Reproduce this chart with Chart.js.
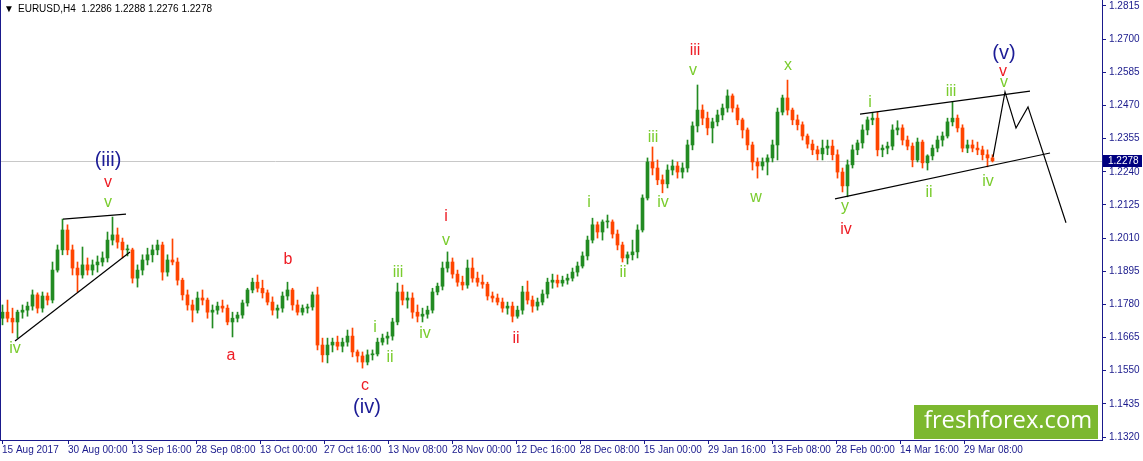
<!DOCTYPE html>
<html>
<head>
<meta charset="utf-8">
<script src="https://cdn.jsdelivr.net/npm/chart.js@4.4.1/dist/chart.umd.min.js"></script>
<style>
  html, body { margin: 0; padding: 0; background: #fff; }
  #wrap { width: 1143px; height: 461px; }
</style>
</head>
<body>
<div id="wrap"><canvas id="eurusdChart" width="1143" height="461"></canvas></div>
<script>
// EURUSD H4 (one candle here = 5 H4 bars)
const openP = [1.1732,1.1753,1.1732,1.1719,1.1753,1.1760,1.1774,1.1813,1.1767,1.1809,
  1.1795,1.1899,1.1969,1.2038,1.1969,1.1906,1.1882,1.1917,1.1899,1.1917,
  1.1927,1.1941,1.2003,1.2021,1.1996,1.1969,1.1969,1.1871,1.1899,1.1934,
  1.1952,1.1969,1.1986,1.1892,1.1934,1.1927,1.1864,1.1813,1.1778,1.1760,
  1.1802,1.1795,1.1753,1.1760,1.1774,1.1767,1.1719,1.1732,1.1743,1.1785,
  1.1830,1.1857,1.1836,1.1820,1.1788,1.1760,1.1767,1.1809,1.1830,1.1778,
  1.1753,1.1767,1.1771,1.1813,1.1639,1.1605,1.1639,1.1649,1.1635,1.1649,
  1.1670,1.1615,1.1601,1.1580,1.1605,1.1608,1.1649,1.1663,1.1670,1.1719,
  1.1823,1.1795,1.1802,1.1753,1.1739,1.1746,1.1760,1.1823,1.1843,1.1906,
  1.1927,1.1885,1.1857,1.1847,1.1906,1.1871,1.1857,1.1850,1.1809,1.1802,
  1.1788,1.1767,1.1774,1.1739,1.1760,1.1823,1.1795,1.1774,1.1788,1.1816,
  1.1857,1.1864,1.1854,1.1864,1.1871,1.1892,1.1913,1.1948,1.2003,1.2056,
  1.2031,1.2066,1.2066,1.2024,1.1986,1.1941,1.1952,1.1962,1.2038,1.2149,
  1.2274,1.2253,1.2212,1.2198,1.2246,1.2260,1.2239,1.2253,1.2333,1.2399,
  1.2454,1.2426,1.2392,1.2413,1.2437,1.2461,1.2503,1.2461,1.2420,1.2385,
  1.2333,1.2274,1.2260,1.2274,1.2288,1.2333,1.2447,1.2496,1.2454,1.2420,
  1.2403,1.2364,1.2336,1.2316,1.2302,1.2322,1.2329,1.2299,1.2239,1.2191,
  1.2264,1.2316,1.2340,1.2385,1.2420,1.2426,1.2316,1.2322,1.2329,1.2385,
  1.2392,1.2350,1.2329,1.2281,1.2343,1.2271,1.2295,1.2322,1.2350,1.2364,
  1.2413,1.2426,1.2392,1.2322,1.2333,1.2322,1.2316,1.2299,1.2288];
const highP = [1.1778,1.1795,1.1767,1.1760,1.1778,1.1788,1.1830,1.1820,1.1823,1.1820,
  1.1927,1.1986,1.2076,1.2056,1.1986,1.1927,1.1979,1.1941,1.1934,1.1948,
  1.1962,1.2031,1.2083,1.2045,1.2010,1.1986,1.1975,1.1917,1.1952,1.1975,
  1.1986,1.2003,1.1996,1.1952,1.2007,1.1941,1.1871,1.1830,1.1795,1.1823,
  1.1830,1.1802,1.1778,1.1788,1.1795,1.1778,1.1753,1.1753,1.1795,1.1836,
  1.1871,1.1882,1.1864,1.1830,1.1806,1.1778,1.1823,1.1857,1.1836,1.1795,
  1.1778,1.1781,1.1823,1.1840,1.1663,1.1663,1.1663,1.1670,1.1663,1.1691,
  1.1698,1.1622,1.1615,1.1622,1.1622,1.1663,1.1677,1.1684,1.1732,1.1854,
  1.1847,1.1823,1.1820,1.1778,1.1767,1.1774,1.1836,1.1854,1.1927,1.1962,
  1.1941,1.1899,1.1878,1.1934,1.1941,1.1892,1.1882,1.1857,1.1823,1.1816,
  1.1802,1.1788,1.1788,1.1774,1.1843,1.1861,1.1809,1.1802,1.1830,1.1871,
  1.1885,1.1882,1.1878,1.1885,1.1906,1.1927,1.1962,1.2017,1.2079,1.2066,
  1.2073,1.2090,1.2073,1.2038,1.1996,1.1962,1.2003,1.2056,1.2160,1.2288,
  1.2326,1.2281,1.2229,1.2264,1.2281,1.2274,1.2271,1.2350,1.2413,1.2541,
  1.2472,1.2447,1.2426,1.2454,1.2475,1.2524,1.2510,1.2472,1.2426,1.2392,
  1.2343,1.2288,1.2288,1.2299,1.2350,1.2461,1.2506,1.2558,1.2461,1.2437,
  1.2413,1.2371,1.2350,1.2329,1.2350,1.2350,1.2350,1.2316,1.2253,1.2281,
  1.2333,1.2350,1.2403,1.2430,1.2444,1.2447,1.2333,1.2343,1.2403,1.2417,
  1.2403,1.2364,1.2340,1.2357,1.2350,1.2299,1.2333,1.2364,1.2378,1.2426,
  1.2482,1.2437,1.2403,1.2350,1.2350,1.2343,1.2329,1.2316,1.2299];
const lowP = [1.1709,1.1719,1.1681,1.1663,1.1732,1.1739,1.1760,1.1750,1.1753,1.1778,
  1.1785,1.1892,1.1952,1.1952,1.1882,1.1823,1.1871,1.1882,1.1882,1.1892,
  1.1913,1.1927,1.1986,1.1975,1.1941,1.1948,1.1854,1.1840,1.1882,1.1917,
  1.1927,1.1952,1.1864,1.1878,1.1917,1.1847,1.1795,1.1760,1.1719,1.1750,
  1.1778,1.1732,1.1698,1.1746,1.1753,1.1709,1.1667,1.1719,1.1732,1.1774,
  1.1820,1.1823,1.1802,1.1778,1.1743,1.1732,1.1753,1.1795,1.1760,1.1743,
  1.1743,1.1750,1.1760,1.1622,1.1580,1.1577,1.1615,1.1622,1.1615,1.1635,
  1.1598,1.1580,1.1559,1.1570,1.1587,1.1601,1.1639,1.1642,1.1656,1.1709,
  1.1778,1.1767,1.1732,1.1719,1.1719,1.1732,1.1750,1.1813,1.1830,1.1892,
  1.1871,1.1843,1.1830,1.1836,1.1857,1.1843,1.1836,1.1795,1.1788,1.1778,
  1.1753,1.1746,1.1719,1.1732,1.1746,1.1781,1.1753,1.1760,1.1778,1.1802,
  1.1836,1.1840,1.1843,1.1850,1.1861,1.1878,1.1906,1.1934,1.1993,1.2010,
  1.2003,1.2045,1.2010,1.1969,1.1927,1.1920,1.1934,1.1941,1.2031,1.2142,
  1.2229,1.2195,1.2167,1.2184,1.2229,1.2218,1.2218,1.2239,1.2316,1.2378,
  1.2403,1.2368,1.2340,1.2399,1.2420,1.2447,1.2447,1.2403,1.2357,1.2316,
  1.2246,1.2218,1.2246,1.2229,1.2274,1.2281,1.2437,1.2437,1.2403,1.2385,
  1.2350,1.2322,1.2299,1.2281,1.2281,1.2299,1.2281,1.2218,1.2170,1.2153,
  1.2253,1.2299,1.2322,1.2368,1.2403,1.2295,1.2292,1.2302,1.2316,1.2368,
  1.2333,1.2316,1.2257,1.2274,1.2253,1.2246,1.2281,1.2309,1.2329,1.2357,
  1.2399,1.2378,1.2309,1.2306,1.2309,1.2299,1.2281,1.2257,1.2274];
const closeP = [1.1753,1.1732,1.1719,1.1753,1.1760,1.1774,1.1813,1.1767,1.1809,1.1795,
  1.1899,1.1969,1.2038,1.1969,1.1906,1.1882,1.1917,1.1899,1.1917,1.1927,
  1.1941,1.2003,1.2021,1.1996,1.1969,1.1969,1.1871,1.1899,1.1934,1.1952,
  1.1969,1.1986,1.1892,1.1934,1.1927,1.1864,1.1813,1.1778,1.1760,1.1802,
  1.1795,1.1753,1.1760,1.1774,1.1767,1.1719,1.1732,1.1743,1.1785,1.1830,
  1.1857,1.1836,1.1820,1.1788,1.1760,1.1767,1.1809,1.1830,1.1778,1.1753,
  1.1767,1.1771,1.1813,1.1639,1.1605,1.1639,1.1649,1.1635,1.1649,1.1670,
  1.1615,1.1601,1.1580,1.1605,1.1608,1.1649,1.1663,1.1670,1.1719,1.1823,
  1.1795,1.1802,1.1753,1.1739,1.1746,1.1760,1.1823,1.1843,1.1906,1.1927,
  1.1885,1.1857,1.1847,1.1906,1.1871,1.1857,1.1850,1.1809,1.1802,1.1788,
  1.1767,1.1774,1.1739,1.1760,1.1823,1.1795,1.1774,1.1788,1.1816,1.1857,
  1.1864,1.1854,1.1864,1.1871,1.1892,1.1913,1.1948,1.2003,1.2056,1.2031,
  1.2066,1.2066,1.2024,1.1986,1.1941,1.1952,1.1962,1.2038,1.2149,1.2274,
  1.2253,1.2212,1.2198,1.2246,1.2260,1.2239,1.2253,1.2333,1.2399,1.2454,
  1.2426,1.2392,1.2413,1.2437,1.2461,1.2503,1.2461,1.2420,1.2385,1.2333,
  1.2274,1.2260,1.2274,1.2288,1.2333,1.2447,1.2496,1.2454,1.2420,1.2403,
  1.2364,1.2336,1.2316,1.2302,1.2322,1.2329,1.2299,1.2239,1.2191,1.2264,
  1.2316,1.2340,1.2385,1.2420,1.2426,1.2316,1.2322,1.2329,1.2385,1.2392,
  1.2350,1.2329,1.2281,1.2343,1.2271,1.2295,1.2322,1.2350,1.2364,1.2413,
  1.2426,1.2392,1.2322,1.2333,1.2322,1.2316,1.2299,1.2288,1.2278];

// price scale ticks (right axis)
const priceTicks = [1.2815,1.2700,1.2585,1.2470,1.2355,1.2240,1.2125,1.2010,
  1.1895,1.1780,1.1665,1.1550,1.1435,1.1320];
// time axis: position in H4 bars from 15 Aug 2017 00:00, and labels
const timeTickBars = [2,68,132,196,260,324,388,452,516,580,644,708,772,836,900,964];
const timeTickLabels = ["15 Aug 2017","30 Aug 00:00","13 Sep 16:00","28 Sep 08:00",
  "13 Oct 00:00","27 Oct 16:00","13 Nov 08:00","28 Nov 00:00","12 Dec 16:00",
  "28 Dec 08:00","15 Jan 00:00","29 Jan 16:00","13 Feb 08:00","28 Feb 00:00",
  "14 Mar 16:00","29 Mar 08:00"];
const lastPrice = 1.2278;

// trend lines and the forecast path, as [bar, price] pairs
const trendLines = [
  [[63,1.2076],[126,1.2093]],
  [[15,1.1653],[130,1.1962]],
  [[860,1.2440],[1030,1.2520]],
  [[835,1.2146],[1050,1.2305]],
  [[993,1.2291],[1005,1.2517],[1016,1.2392],[1028,1.2465],[1066,1.2063]],
];

// wave counts: text, bar, price, kind
const waveLabels = [
  ["(iii)",108,1.2278,"major"],["v",108,1.2201,"minor"],["v",108,1.2132,"minute"],
  ["iv",15,1.1625,"minute"],
  ["a",231,1.1604,"minor"],["b",288,1.1937,"minor"],["c",365,1.1500,"minor"],
  ["(iv)",367,1.1424,"major"],
  ["i",375,1.1701,"minute"],["ii",390,1.1597,"minute"],["iii",398,1.1889,"minute"],
  ["iv",425,1.1680,"minute"],["v",446,1.2003,"minute"],["i",446,1.2083,"minor"],
  ["ii",516,1.1663,"minor"],
  ["i",589,1.2132,"minute"],["ii",623,1.1889,"minute"],["iii",653,1.2357,"minute"],
  ["iv",663,1.2132,"minute"],["v",693,1.2590,"minute"],["iii",695,1.2659,"minor"],
  ["w",756,1.2149,"minute"],["x",788,1.2607,"minute"],["y",845,1.2118,"minute"],
  ["iv",846,1.2038,"minor"],
  ["i",870,1.2479,"minute"],["ii",929,1.2167,"minute"],["iii",951,1.2517,"minute"],
  ["iv",988,1.2205,"minute"],
  ["(v)",1004,1.2652,"major"],["v",1003,1.2586,"minor"],["v",1004,1.2548,"minute"],
];

const BULL = "#228b22";
const BEAR = "#ff4500";
const NAVY = "#1a1a8c";
const waveStyle = {
  major: { color: "#1c1c96", font: "20px 'Liberation Sans', Arial, sans-serif" },
  minor: { color: "#ee1c24", font: "16px 'Liberation Sans', Arial, sans-serif" },
  minute: { color: "#7acc2e", font: "16px 'Liberation Sans', Arial, sans-serif" },
};

const candleBars = 5; // H4 bars per drawn candle
const candleX = closeP.map((c, i) => i * candleBars + candleBars / 2);
const candleColor = closeP.map((c, i) => (c >= openP[i] ? BULL : BEAR));

const wickData = candleX.map((x, i) => ({ x: x, y: [lowP[i], highP[i]] }));
const bodyData = candleX.map((x, i) => ({ x: x, y: [openP[i], closeP[i]] }));

const lineDatasets = trendLines.map((pts) => ({
  type: "line",
  data: pts.map((p) => ({ x: p[0], y: p[1] })),
  borderColor: "#000",
  borderWidth: 1.2,
  pointRadius: 0,
  tension: 0,
  order: 0,
}));

const overlay = {
  id: "overlay",
  beforeDatasetsDraw(chart) {
    const { ctx, chartArea: a, scales } = chart;
    const y = Math.round(scales.y.getPixelForValue(lastPrice)) + 0.5;
    ctx.save();
    ctx.strokeStyle = "#c8c8c8";
    ctx.lineWidth = 1;
    ctx.beginPath();
    ctx.moveTo(a.left, y);
    ctx.lineTo(a.right, y);
    ctx.stroke();
    ctx.restore();
  },
  afterDraw(chart) {
    const { ctx, chartArea: a, scales } = chart;
    ctx.save();
    // left border (right and bottom come from the axes)
    ctx.strokeStyle = NAVY;
    ctx.lineWidth = 1;
    ctx.beginPath();
    ctx.moveTo(a.left + 0.5, a.top);
    ctx.lineTo(a.left + 0.5, a.bottom);
    ctx.stroke();

    // wave labels
    ctx.textAlign = "center";
    ctx.textBaseline = "middle";
    waveLabels.forEach(([t, bx, p, kind]) => {
      ctx.fillStyle = waveStyle[kind].color;
      ctx.font = waveStyle[kind].font;
      ctx.fillText(t, scales.x.getPixelForValue(bx), scales.y.getPixelForValue(p));
    });

    // watermark
    ctx.fillStyle = "#7cb82f";
    ctx.fillRect(914, 405, 184, 34);
    ctx.fillStyle = "#fff";
    ctx.font = "24px 'Open Sans', sans-serif";
    const w = ctx.measureText("freshforex.com").width;
    const size = 24 * 168 / w;
    ctx.font = size.toFixed(1) + "px 'Open Sans', sans-serif";
    ctx.textAlign = "center";
    ctx.fillText("freshforex.com", 1008, 421);

    // current price box
    const py = Math.round(scales.y.getPixelForValue(lastPrice));
    ctx.fillStyle = "#000080";
    ctx.fillRect(a.right + 1, py - 6, 39, 12);
    ctx.fillStyle = "#fff";
    ctx.font = "10px 'Liberation Sans', Arial, sans-serif";
    ctx.textAlign = "left";
    ctx.fillText(lastPrice.toFixed(4), a.right + 6, py + 0.5);

    // symbol header
    ctx.fillStyle = "#000";
    ctx.font = "10px 'Liberation Sans', Arial, sans-serif";
    ctx.textBaseline = "middle";
    ctx.fillText("\u25BC", 4, 9);
    ctx.fillText("EURUSD,H4  1.2286 1.2288 1.2276 1.2278", 18, 9);
    ctx.restore();
  },
};

const ctx = document.getElementById("eurusdChart").getContext("2d");
const eurusdChart = new Chart(ctx, {
  type: "bar",
  data: {
    datasets: [
      ...lineDatasets,
      {
        data: wickData,
        backgroundColor: candleColor,
        barThickness: 1,
        grouped: false,
        borderWidth: 0,
        order: 2,
      },
      {
        data: bodyData,
        backgroundColor: candleColor,
        barThickness: 3,
        grouped: false,
        borderWidth: 0,
        minBarLength: 1,
        order: 1,
      },
    ],
  },
  options: {
    responsive: false,
    animation: false,
    devicePixelRatio: 1,
    layout: { padding: 0 },
    plugins: { legend: { display: false }, tooltip: { enabled: false } },
    scales: {
      x: {
        type: "linear",
        position: "bottom",
        min: 0,
        max: 1102,
        offset: false,
        grid: { offset: false, drawOnChartArea: false, tickLength: 4, color: NAVY },
        border: { color: NAVY },
        ticks: {
          autoSkip: false,
          maxRotation: 0,
          align: "start",
          padding: 0,
          color: NAVY,
          font: { family: "'Liberation Sans', Arial, sans-serif", size: 10 },
          callback: (v, i) => timeTickLabels[i],
        },
        afterBuildTicks: (s) => {
          s.ticks = timeTickBars.map((v) => ({ value: v }));
        },
        afterFit: (s) => {
          s.height = 21;
          s.paddingLeft = 0;
          s.paddingRight = 0;
        },
      },
      y: {
        type: "linear",
        position: "right",
        min: 1.13096,
        max: 1.28358,
        grid: { drawOnChartArea: false, tickLength: 4, color: NAVY },
        border: { color: NAVY },
        ticks: {
          autoSkip: false,
          padding: 3,
          crossAlign: "near",
          color: NAVY,
          font: { family: "'Liberation Sans', Arial, sans-serif", size: 10 },
          callback: (v) => v.toFixed(4),
        },
        afterBuildTicks: (s) => {
          s.ticks = priceTicks.map((v) => ({ value: v }));
        },
        afterFit: (s) => {
          s.width = 41;
          s.paddingTop = 0;
          s.paddingBottom = 0;
        },
      },
    },
  },
  plugins: [overlay],
});
</script>
</body>
</html>
